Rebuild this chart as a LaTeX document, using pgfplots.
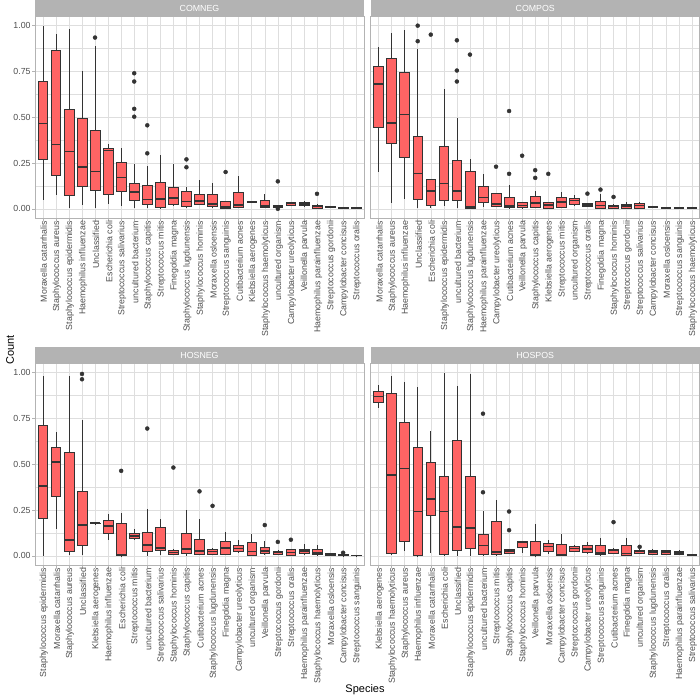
\documentclass[border=0pt]{standalone}
\usepackage{fontspec}
\setmainfont{Liberation Sans}
\usepackage{pgfplots}
\pgfplotsset{compat=1.18}
\usepgfplotslibrary{statistics}
\definecolor{gr20}{HTML}{333333}
\definecolor{gr30}{HTML}{4D4D4D}
\definecolor{gr70}{HTML}{B3B3B3}
\definecolor{gr87}{HTML}{DEDEDE}
\definecolor{boxred}{HTML}{FF6464}
\newcommand\ticfont{\fontsize{8.8bp}{10bp}\selectfont}
\newcommand\bx[6]{\addplot[boxplot prepared={draw position=#1,lower whisker=#2,lower quartile=#3,median=#4,upper quartile=#5,upper whisker=#6}] coordinates {};}
\pgfplotsset{
 every axis title shift=0pt,
 facet/.style={scale only axis, anchor=south west, width=329bp, height=201.5bp,
  xmin=0.4, xmax=25.6, ymin=-0.05, ymax=1.05,
  xtick={1,...,25}, ytick={0,0.25,0.5,0.75,1}, minor ytick={0.125,0.375,0.625,0.875},
  xmajorgrids, ymajorgrids, yminorgrids,
  major grid style={draw=gr87, line width=0.5bp},
  minor grid style={draw=gr87, line width=0.3bp},
  axis line style={draw=gr70, line width=0.7bp},
  tick align=outside, tick pos=left, major tick length=2.75bp, minor tick length=0pt,
  tick style={draw=gr70, line width=0.5bp},
  xticklabel style={rotate=90, anchor=east, font=\ticfont, text=gr30, inner sep=0pt, yshift=-1bp},
  yticklabel style={font=\ticfont, text=gr30, inner sep=0pt, xshift=-1.5bp},
  title style={at={(0.5,1)}, anchor=south, yshift=0pt, fill=gr70, text=white, font=\ticfont,
   minimum width=329bp, minimum height=16.5bp, inner sep=0pt, outer sep=0pt},
  boxplot/draw direction=y,
  boxplot/box extend=0.75, boxplot/whisker extend=0,
  boxplot/every box/.style={draw=gr20, fill=boxred, line width=0.6bp},
  boxplot/every whisker/.style={draw=gr20, line width=0.6bp},
  boxplot/every median/.style={draw=gr20, line width=1.6bp},
  /pgf/number format/.cd, fixed, fixed zerofill, precision=2, assume math mode=true, /pgfplots/.cd},
 outl/.style={only marks, mark=*, mark size=2bp, draw=gr20, fill=gr20},
 rightfacet/.style={ytick style={draw=none}, yticklabels={}}
}
\begin{document}
\begin{tikzpicture}
\path[use as bounding box] (0,0) rectangle (700bp,700bp);
% ---------- COMNEG ----------
\begin{axis}[facet, at={(35bp,482bp)}, title={COMNEG},
 xticklabels={Moraxella catarrhalis,Staphylococcus aureus,Staphylococcus epidermidis,Haemophilus influenzae,Unclassified,Escherichia coli,Streptococcus salivarius,uncultured bacterium,Staphylococcus capitis,Streptococcus mitis,Finegoldia magna,Staphylococcus lugdunensis,Staphylococcus hominis,Moraxella osloensis,Streptococcus sanguinis,Cutibacterium acnes,Klebsiella aerogenes,Staphylococcus haemolyticus,uncultured organism,Campylobacter ureolyticus,Veillonella parvula,Haemophilus parainfluenzae,Streptococcus gordonii,Campylobacter concisus,Streptococcus oralis}]
\bx{1}{0.05}{0.270}{0.466}{0.697}{1.0}
\bx{2}{0.073}{0.181}{0.352}{0.868}{0.956}
\bx{3}{0.004}{0.076}{0.312}{0.541}{0.98}
\bx{4}{0.022}{0.122}{0.227}{0.492}{0.753}
\bx{5}{0.004}{0.103}{0.203}{0.430}{0.891}
\bx{6}{0.029}{0.082}{0.319}{0.332}{0.354}
\bx{7}{0.018}{0.093}{0.172}{0.254}{0.334}
\bx{8}{0.004}{0.049}{0.091}{0.140}{0.247}
\bx{9}{0.004}{0.024}{0.051}{0.131}{0.236}
\bx{10}{0.002}{0.007}{0.053}{0.145}{0.296}
\bx{11}{0.015}{0.025}{0.058}{0.118}{0.247}
\bx{12}{0.007}{0.016}{0.040}{0.096}{0.118}
\bx{13}{0.02}{0.025}{0.044}{0.082}{0.158}
\bx{14}{0.004}{0.013}{0.025}{0.082}{0.141}
\bx{15}{0.002}{0.004}{0.011}{0.039}{0.040}
\bx{16}{0.005}{0.011}{0.020}{0.091}{0.181}
\bx{17}{0.034}{0.036}{0.038}{0.040}{0.041}
\bx{18}{0.003}{0.009}{0.015}{0.049}{0.082}
\bx{19}{0.009}{0.011}{0.015}{0.018}{0.020}
\bx{20}{0.018}{0.021}{0.029}{0.036}{0.040}
\bx{21}{0.012}{0.018}{0.027}{0.038}{0.044}
\bx{22}{0.003}{0.005}{0.012}{0.020}{0.025}
\bx{23}{0.009}{0.010}{0.013}{0.015}{0.016}
\bx{24}{0.003}{0.004}{0.006}{0.008}{0.009}
\bx{25}{0.003}{0.004}{0.005}{0.007}{0.008}
\addplot[outl] coordinates {(5,0.935) (8,0.740) (8,0.695) (8,0.546) (8,0.503) (9,0.456) (9,0.303) (12,0.270) (12,0.227) (15,0.201) (19,0.150) (19,0.0) (22,0.082)};
\end{axis}
% ---------- COMPOS ----------
\begin{axis}[facet, rightfacet, at={(370.7bp,482bp)}, title={COMPOS},
 xticklabels={Moraxella catarrhalis,Staphylococcus aureus,Haemophilus influenzae,Unclassified,Escherichia coli,Staphylococcus epidermidis,uncultured bacterium,Staphylococcus lugdunensis,Haemophilus parainfluenzae,Campylobacter ureolyticus,Cutibacterium acnes,Veillonella parvula,Staphylococcus capitis,Klebsiella aerogenes,Streptococcus mitis,uncultured organism,Streptococcus oralis,Finegoldia magna,Staphylococcus hominis,Streptococcus gordonii,Streptococcus salivarius,Campylobacter concisus,Moraxella osloensis,Streptococcus sanguinis,Staphylococcus haemolyticus}]
\bx{1}{0.200}{0.443}{0.682}{0.780}{0.882}
\bx{2}{0.033}{0.359}{0.470}{0.822}{0.958}
\bx{3}{0.051}{0.283}{0.515}{0.748}{0.976}
\bx{4}{0.004}{0.051}{0.192}{0.396}{0.873}
\bx{5}{0.004}{0.020}{0.098}{0.160}{0.162}
\bx{6}{0.015}{0.044}{0.138}{0.341}{0.655}
\bx{7}{0.004}{0.044}{0.096}{0.265}{0.497}
\bx{8}{0.004}{0.005}{0.009}{0.203}{0.270}
\bx{9}{0.011}{0.033}{0.062}{0.125}{0.191}
\bx{10}{0.011}{0.015}{0.025}{0.083}{0.086}
\bx{11}{0.004}{0.007}{0.015}{0.065}{0.132}
\bx{12}{0.003}{0.007}{0.018}{0.034}{0.038}
\bx{13}{0.004}{0.011}{0.031}{0.070}{0.095}
\bx{14}{0.003}{0.004}{0.020}{0.033}{0.036}
\bx{15}{0.005}{0.009}{0.038}{0.064}{0.094}
\bx{16}{0.018}{0.026}{0.046}{0.060}{0.075}
\bx{17}{0.012}{0.015}{0.021}{0.028}{0.030}
\bx{18}{0.003}{0.004}{0.019}{0.040}{0.082}
\bx{19}{0.002}{0.004}{0.012}{0.022}{0.025}
\bx{20}{0.003}{0.005}{0.016}{0.024}{0.038}
\bx{21}{0.002}{0.005}{0.019}{0.029}{0.037}
\bx{22}{0.008}{0.009}{0.011}{0.014}{0.015}
\bx{23}{0.003}{0.004}{0.006}{0.008}{0.009}
\bx{24}{0.003}{0.004}{0.005}{0.007}{0.008}
\bx{25}{0.001}{0.002}{0.003}{0.004}{0.005}
\addplot[outl] coordinates {(4,1.0) (4,0.915) (5,0.951) (7,0.920) (7,0.755) (7,0.695) (8,0.842) (10,0.230) (11,0.534) (11,0.191) (12,0.290) (13,0.211) (13,0.169) (14,0.191) (17,0.083) (18,0.105) (19,0.065)};
\end{axis}
% ---------- HOSNEG ----------
\begin{axis}[facet, at={(35bp,135bp)}, title={HOSNEG},
 xticklabels={Staphylococcus epidermidis,Moraxella catarrhalis,Staphylococcus aureus,Unclassified,Klebsiella aerogenes,Haemophilus influenzae,Escherichia coli,Streptococcus mitis,uncultured bacterium,Streptococcus salivarius,Staphylococcus hominis,Staphylococcus capitis,Cutibacterium acnes,Staphylococcus lugdunensis,Finegoldia magna,Campylobacter ureolyticus,uncultured organism,Veillonella parvula,Streptococcus gordonii,Streptococcus oralis,Haemophilus parainfluenzae,Staphylococcus haemolyticus,Moraxella osloensis,Campylobacter concisus,Streptococcus sanguinis}]
\bx{1}{0.0}{0.207}{0.380}{0.715}{0.980}
\bx{2}{0.144}{0.327}{0.511}{0.595}{0.678}
\bx{3}{0.004}{0.027}{0.085}{0.564}{0.984}
\bx{4}{0.004}{0.056}{0.167}{0.351}{0.740}
\bx{5}{0.175}{0.176}{0.178}{0.180}{0.181}
\bx{6}{0.089}{0.122}{0.162}{0.195}{0.231}
\bx{7}{0.0}{0.001}{0.007}{0.180}{0.235}
\bx{8}{0.089}{0.095}{0.107}{0.124}{0.147}
\bx{9}{0.0}{0.024}{0.058}{0.131}{0.255}
\bx{10}{0.004}{0.031}{0.044}{0.155}{0.200}
\bx{11}{0.005}{0.009}{0.018}{0.029}{0.040}
\bx{12}{0.0}{0.013}{0.038}{0.122}{0.249}
\bx{13}{0.002}{0.008}{0.026}{0.089}{0.199}
\bx{14}{0.007}{0.010}{0.024}{0.035}{0.045}
\bx{15}{0.002}{0.011}{0.044}{0.078}{0.129}
\bx{16}{0.018}{0.024}{0.039}{0.057}{0.084}
\bx{17}{0.002}{0.004}{0.024}{0.073}{0.118}
\bx{18}{0.004}{0.014}{0.027}{0.044}{0.081}
\bx{19}{0.008}{0.011}{0.019}{0.025}{0.030}
\bx{20}{0.003}{0.005}{0.018}{0.034}{0.036}
\bx{21}{0.007}{0.012}{0.026}{0.035}{0.062}
\bx{22}{0.003}{0.007}{0.015}{0.035}{0.058}
\bx{23}{0.002}{0.003}{0.009}{0.013}{0.016}
\bx{24}{0.0}{0.001}{0.004}{0.008}{0.009}
\bx{25}{0.001}{0.0015}{0.002}{0.003}{0.004}
\addplot[outl] coordinates {(4,0.993) (4,0.964) (7,0.464) (9,0.695) (11,0.482) (13,0.352) (14,0.273) (18,0.168) (19,0.076) (20,0.088) (24,0.017)};
\end{axis}
% ---------- HOSPOS ----------
\begin{axis}[facet, rightfacet, at={(370.7bp,135bp)}, title={HOSPOS},
 xticklabels={Klebsiella aerogenes,Staphylococcus haemolyticus,Staphylococcus aureus,Haemophilus influenzae,Moraxella catarrhalis,Escherichia coli,Unclassified,Staphylococcus epidermidis,uncultured bacterium,Streptococcus mitis,Staphylococcus capitis,Staphylococcus hominis,Veillonella parvula,Moraxella osloensis,Campylobacter concisus,Streptococcus gordonii,Campylobacter ureolyticus,Streptococcus sanguinis,Cutibacterium acnes,Finegoldia magna,uncultured organism,Staphylococcus lugdunensis,Streptococcus oralis,Haemophilus parainfluenzae,Streptococcus salivarius}]
\bx{1}{0.807}{0.838}{0.869}{0.900}{0.931}
\bx{2}{0.007}{0.016}{0.440}{0.889}{0.982}
\bx{3}{0.024}{0.078}{0.476}{0.727}{0.947}
\bx{4}{0.0}{0.001}{0.242}{0.591}{0.920}
\bx{5}{0.016}{0.220}{0.309}{0.511}{0.680}
\bx{6}{0.0}{0.009}{0.242}{0.436}{0.998}
\bx{7}{0.0}{0.031}{0.158}{0.629}{0.929}
\bx{8}{0.0}{0.040}{0.153}{0.433}{0.995}
\bx{9}{0.0}{0.011}{0.056}{0.118}{0.244}
\bx{10}{0.0}{0.009}{0.022}{0.187}{0.305}
\bx{11}{0.008}{0.016}{0.025}{0.033}{0.040}
\bx{12}{0.016}{0.044}{0.072}{0.077}{0.078}
\bx{13}{0.0}{0.001}{0.005}{0.078}{0.176}
\bx{14}{0.009}{0.027}{0.050}{0.070}{0.089}
\bx{15}{0.0}{0.003}{0.008}{0.065}{0.121}
\bx{16}{0.022}{0.026}{0.040}{0.051}{0.057}
\bx{17}{0.011}{0.020}{0.037}{0.057}{0.077}
\bx{18}{0.002}{0.007}{0.014}{0.056}{0.100}
\bx{19}{0.008}{0.013}{0.029}{0.035}{0.042}
\bx{20}{0.0}{0.003}{0.012}{0.056}{0.095}
\bx{21}{0.008}{0.013}{0.025}{0.032}{0.036}
\bx{22}{0.005}{0.009}{0.022}{0.030}{0.035}
\bx{23}{0.007}{0.009}{0.020}{0.028}{0.034}
\bx{24}{0.008}{0.009}{0.017}{0.026}{0.031}
\bx{25}{0.002}{0.003}{0.004}{0.005}{0.006}
\addplot[outl] coordinates {(9,0.776) (9,0.347) (11,0.242) (11,0.140) (19,0.184) (21,0.049)};
\end{axis}
\node[rotate=90, font=\fontsize{11bp}{13bp}\selectfont] at (10bp,350bp) {Count};
\node[font=\fontsize{11bp}{13bp}\selectfont] at (365bp,10bp) {Species};
\end{tikzpicture}
\end{document}
